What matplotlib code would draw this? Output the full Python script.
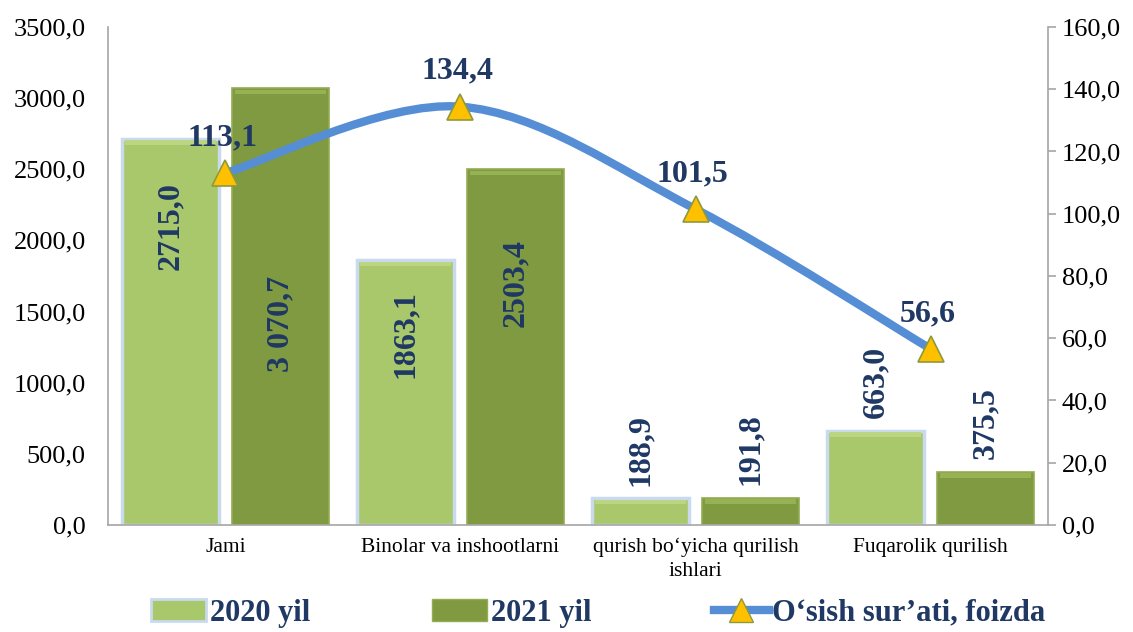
import matplotlib
matplotlib.use("Agg")
import matplotlib.pyplot as plt
import numpy as np
from matplotlib.path import Path
from matplotlib.patches import PathPatch
from matplotlib.lines import Line2D
from matplotlib.patches import Rectangle

categories = ["Jami", "Binolar va inshootlarni", "qurish bo\u2018yicha qurilish\nishlari", "Fuqarolik qurilish"]
values_2020 = [2715.0, 1863.1, 188.9, 663.0]
values_2021 = [3070.7, 2503.4, 191.8, 375.5]
growth = [113.1, 134.4, 101.5, 56.6]
labels_2020 = ["2715,0", "1863,1", "188,9", "663,0"]
labels_2021 = ["3 070,7", "2503,4", "191,8", "375,5"]
growth_labels = ["113,1", "134,4", "101,5", "56,6"]
left_ticks = [0, 500, 1000, 1500, 2000, 2500, 3000, 3500]
right_ticks = [0, 20, 40, 60, 80, 100, 120, 140, 160]

SERIF = ["Liberation Serif", "DejaVu Serif"]
NAVY = "#1F3864"
C2020 = "#A9C76B"
C2021 = "#7F9A41"
LINEC = "#558ED5"

plt.rcParams["font.family"] = SERIF

fig = plt.figure(figsize=(11.33, 6.32), dpi=100)
ax = fig.add_axes([0.0953, 0.1693, 0.8297, 0.788])
ax2 = ax.twinx()

x = np.arange(len(categories))
w = 0.41
off = 0.234
b1 = ax.bar(x - off, values_2020, w, color=C2020, edgecolor="#C9DAEE", linewidth=2.5, zorder=2)
b2 = ax.bar(x + off, values_2021, w, color=C2021, edgecolor="#94AD55", linewidth=1.2, zorder=2)
# subtle bevel highlight along top of each bar
for bars, hl in ((b1, "#BBD583"), (b2, "#97B253")):
    for r in bars:
        bx, bw, bh = r.get_x(), r.get_width(), r.get_height()
        ax.bar(bx + bw / 2, 30, bw * 0.94, bottom=bh - 42, color=hl, linewidth=0, zorder=3)

ax.set_xlim(-0.5, 3.5)
ax.set_ylim(0, 3500)
ax.set_yticks(left_ticks)
ax.set_yticklabels([f"{t:.1f}".replace(".", ",") for t in left_ticks], fontsize=19)
ax.tick_params(axis="y", length=0, pad=16)
ax.set_xticks(x)
ax.set_xticklabels(categories, fontsize=15.5, linespacing=1.35)
ax.tick_params(axis="x", length=0, pad=9)
for s in ("top", "right"):
    ax.spines[s].set_visible(False)
ax.spines["left"].set_color("#A6A6A6")
ax.spines["bottom"].set_color("#A6A6A6")
ax.spines["left"].set_linewidth(1.2)
ax.spines["bottom"].set_linewidth(1.2)

ax2.set_ylim(0, 160)
ax2.set_yticks(right_ticks)
ax2.set_yticklabels([f"{t:.1f}".replace(".", ",") for t in right_ticks], fontsize=19)
ax2.tick_params(axis="y", length=6, width=1.2, color="#A6A6A6", pad=4)
for s in ("top", "left", "bottom"):
    ax2.spines[s].set_visible(False)
ax2.spines["right"].set_color("#A6A6A6")
ax2.spines["right"].set_linewidth(1.2)

# bar labels (inside positions in data units for the tall bars)
inside_2020 = [2100, 1340, None, None]
inside_2021 = [1415, 1700, None, None]
for i in range(len(categories)):
    for xv, val, lab, ins in ((x[i] - off, values_2020[i], labels_2020[i], inside_2020[i]),
                             (x[i] + off, values_2021[i], labels_2021[i], inside_2021[i])):
        if ins is not None:
            ax.text(xv, ins, lab, rotation=90, ha="center", va="center", fontsize=23,
                    fontweight="bold", color=NAVY, zorder=5)
        else:
            ax.annotate(lab, (xv, val), xytext=(0, 9), textcoords="offset points",
                        rotation=90, ha="center", va="bottom", fontsize=23,
                        fontweight="bold", color=NAVY, zorder=5)

# smooth line (Catmull-Rom style Bezier through the data points)
pts = np.column_stack([x.astype(float), np.array(growth)])
verts = [tuple(pts[0])]
codes = [Path.MOVETO]
n = len(pts)
for i in range(n - 1):
    p0 = pts[i - 1] if i > 0 else pts[i]
    p1 = pts[i]
    p2 = pts[i + 1]
    p3 = pts[i + 2] if i + 2 < n else pts[i + 1]
    c1 = p1 + (p2 - p0) / 6.0
    c2 = p2 - (p3 - p1) / 6.0
    verts += [tuple(c1), tuple(c2), tuple(p2)]
    codes += [Path.CURVE4] * 3
ax2.add_patch(PathPatch(Path(verts, codes), facecolor="none", edgecolor=LINEC, lw=6,
                        capstyle="round", zorder=4))
ax2.plot(x, growth, linestyle="none", marker="^", markersize=19, markerfacecolor="#FFC000",
         markeredgecolor="#8C9A3C", markeredgewidth=1.2, zorder=6)
for i in range(n):
    ax2.annotate(growth_labels[i], (x[i], growth[i]), xytext=(-2, 20), textcoords="offset points",
                 ha="center", va="baseline", fontsize=23, fontweight="bold", color=NAVY, zorder=7)

# legend
handles = [
    Rectangle((0, 0), 1, 1, facecolor=C2020, edgecolor="#C9DAEE", linewidth=2),
    Rectangle((0, 0), 1, 1, facecolor=C2021, edgecolor="#94AD55", linewidth=1),
    Line2D([0], [0], color=LINEC, lw=6, marker="^", markersize=17, markerfacecolor="#FFC000",
           markeredgecolor="#8C9A3C"),
]
leg = fig.legend(handles, ["2020 yil", "2021 yil", "O\u2018sish sur\u2019ati, foizda"],
                 loc="center", bbox_to_anchor=(0.528, 0.03), ncol=3, frameon=False,
                 prop={"family": SERIF, "weight": "bold", "size": 22},
                 handlelength=1.8, handleheight=0.75, handletextpad=0.12, columnspacing=4.0,
                 borderpad=0, borderaxespad=0)
for t in leg.get_texts():
    t.set_color(NAVY)

fig.savefig("out.png", dpi=100)
